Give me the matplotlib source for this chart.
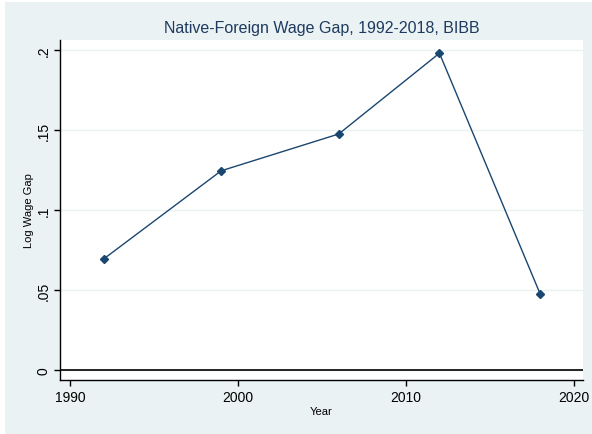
import matplotlib.pyplot as plt
import matplotlib.patches as mpatches

# wage gap values
years = [1992, 1999, 2006, 2012, 2018]
wage_gap = [0.0694, 0.1245, 0.1475, 0.1980, 0.0475]

y_ticks = [0, 0.05, 0.1, 0.15, 0.2]
y_labels = ['0', '.05', '.1', '.15', '.2']
x_ticks = [1990, 2000, 2010, 2020]

W, H = 592, 435
fig = plt.figure(figsize=(W / 100, H / 100), dpi=100)
fig.patch.set_facecolor('white')

# Stata style light blue-grey outer region
bg = mpatches.Rectangle((5 / W, 0), 1 - 5 / W, 1 - 3 / H, transform=fig.transFigure,
                        facecolor='#eaf2f3', edgecolor='none', zorder=-10)
fig.patches.append(bg)

ax = fig.add_axes([60 / W, 1 - 381 / H, (583 - 60) / W, (381 - 41) / H])
ax.set_zorder(1)
ax.set_facecolor('white')

navy = '#1a476f'
ax.plot(years, wage_gap, color=navy, lw=1.0, marker='D', ms=4.5,
        mec=navy, mfc=navy, zorder=3)

ax.axhline(0, color='black', lw=1.2, zorder=2)

ax.set_xlim(1989.4, 2020.55)
ax.set_ylim(-0.00625, 0.20625)

ax.set_yticks(y_ticks)
ax.set_yticklabels(y_labels, rotation=90, va='center', fontsize=10,
                   family='Liberation Sans')
ax.set_xticks(x_ticks)
ax.set_xticklabels([str(x) for x in x_ticks], fontsize=10, family='Liberation Sans')
ax.tick_params(axis='both', length=4, width=1, color='black', pad=3)

ax.yaxis.grid(True, color='#eaf2f3', lw=1)
ax.set_axisbelow(True)

for side in ['top', 'right']:
    ax.spines[side].set_visible(False)
for side in ['left', 'bottom']:
    ax.spines[side].set_color('black')
    ax.spines[side].set_linewidth(1)

ax.set_ylabel('Log Wage Gap', fontsize=8, family='Liberation Sans', labelpad=2)
ax.set_xlabel('Year', fontsize=8, family='Liberation Sans', labelpad=1.5)

fig.text(0.5 * (60 + 583) / W, 1 - 29 / H, 'Native-Foreign Wage Gap, 1992-2018, BIBB',
         ha='center', va='center', fontsize=11.5, color='#1e3a5f', family='Liberation Sans')

fig.savefig('out.png', dpi=100, facecolor=fig.get_facecolor())
